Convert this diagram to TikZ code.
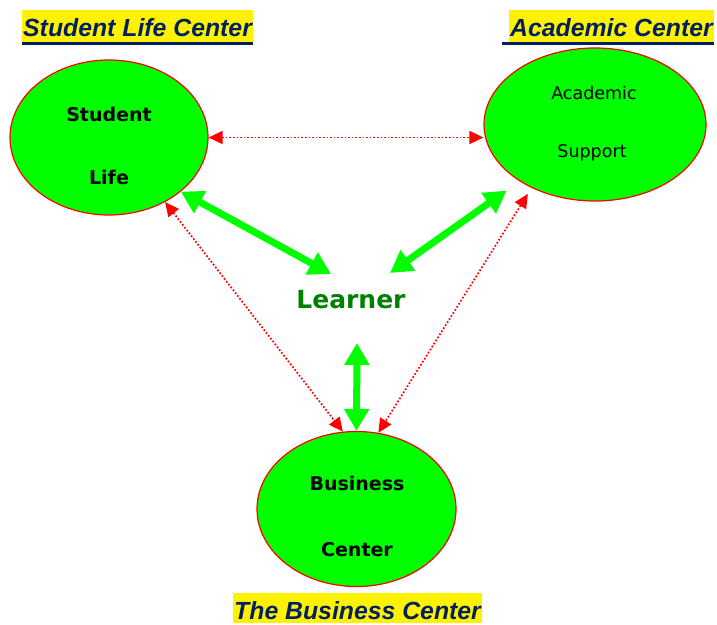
\documentclass[tikz,border=0pt]{standalone}
\usepackage{fontspec}
\setmainfont{Liberation Sans}
\newfontfamily\dejavu{DejaVu Sans}
\usetikzlibrary{shapes.geometric,arrows.meta}
\definecolor{navy}{RGB}{0,32,96}
\definecolor{brightgreen}{RGB}{0,255,0}
\definecolor{darkgreen}{RGB}{0,128,0}
\begin{document}
\begin{tikzpicture}[x=1pt,y=-1pt,
  center/.style={ellipse,draw=red,line width=1.2pt,fill=brightgreen,inner sep=0pt},
  title/.style={fill=yellow,text=navy,inner xsep=1pt,inner ysep=0pt,text height=27pt,text depth=5pt,
    font=\fontsize{24.8}{28}\selectfont\bfseries\itshape,anchor=base west},
  uline/.style={navy,line width=3.3pt},
  boldlbl/.style={font=\dejavu\fontsize{19}{21}\selectfont\bfseries,anchor=base,inner sep=0pt},
  normlbl/.style={font=\dejavu\fontsize{17.5}{19}\selectfont,anchor=base,inner sep=0pt},
  learnerlbl/.style={font=\dejavu\fontsize{25}{28}\selectfont\bfseries,text=darkgreen,anchor=base,inner sep=0pt},
  greenlink/.style={brightgreen,line width=7pt,{Triangle[length=22pt,width=24pt]}-{Triangle[length=22pt,width=24pt]}},
  redlink/.style={red,line width=1.7pt,dash pattern=on 1.7pt off 1.9pt,{Triangle[length=14pt,width=13pt]}-{Triangle[length=14pt,width=13pt]}}
]
\useasboundingbox (0,0) rectangle (717,624);
% titles
\node[title] (slt) at (22,36.7) {Student Life Center};
\draw[uline] ([yshift=-1.65pt]slt.south west) -- ([yshift=-1.65pt]slt.south east);
\node[title] (act) at (509,36.7) {Academic Center};
\draw[uline] ([xshift=-7pt,yshift=-1.65pt]act.south west) -- ([yshift=-1.65pt]act.south east);
\node[title,text height=26pt,text depth=4pt] (bct) at (233,619) {The Business Center};
% centres
\node[center,minimum width=198pt,minimum height=155pt] (sl) at (109,137.5) {};
\node[center,minimum width=222pt,minimum height=153pt] (as) at (595,124.5) {};
\node[center,minimum width=199pt,minimum height=155pt] (bc) at (356.5,509) {};
\node[boldlbl] (sl1) at (109,121) {Student};
\node[boldlbl] (sl2) at (109,184) {Life};
\node[normlbl] (as1) at (594,99) {Academic};
\node[normlbl] (as2) at (592,157) {Support};
\node[boldlbl] (bc1) at (357,490) {Business};
\node[boldlbl] (bc2) at (357,556.5) {Center};
\node[learnerlbl] (lr) at (351,308.3) {Learner};
\coordinate (lrnw) at (331,274);
\coordinate (lrne) at (390,273);
\coordinate (lrs) at (357,343);
% connectors
\draw[redlink] (sl.east) -- (sl.east -| as.west);
\draw[redlink] (sl.-49) -- (bc.100);
\draw[redlink,shorten <=7pt] (as.-135) -- (bc.74);
\draw[greenlink] (sl.-37) -- (lrnw);
\draw[greenlink,shorten <=16pt] (as.-143) -- (lrne);
\draw[greenlink] (lrs) -- (bc.north);
\end{tikzpicture}
\end{document}
